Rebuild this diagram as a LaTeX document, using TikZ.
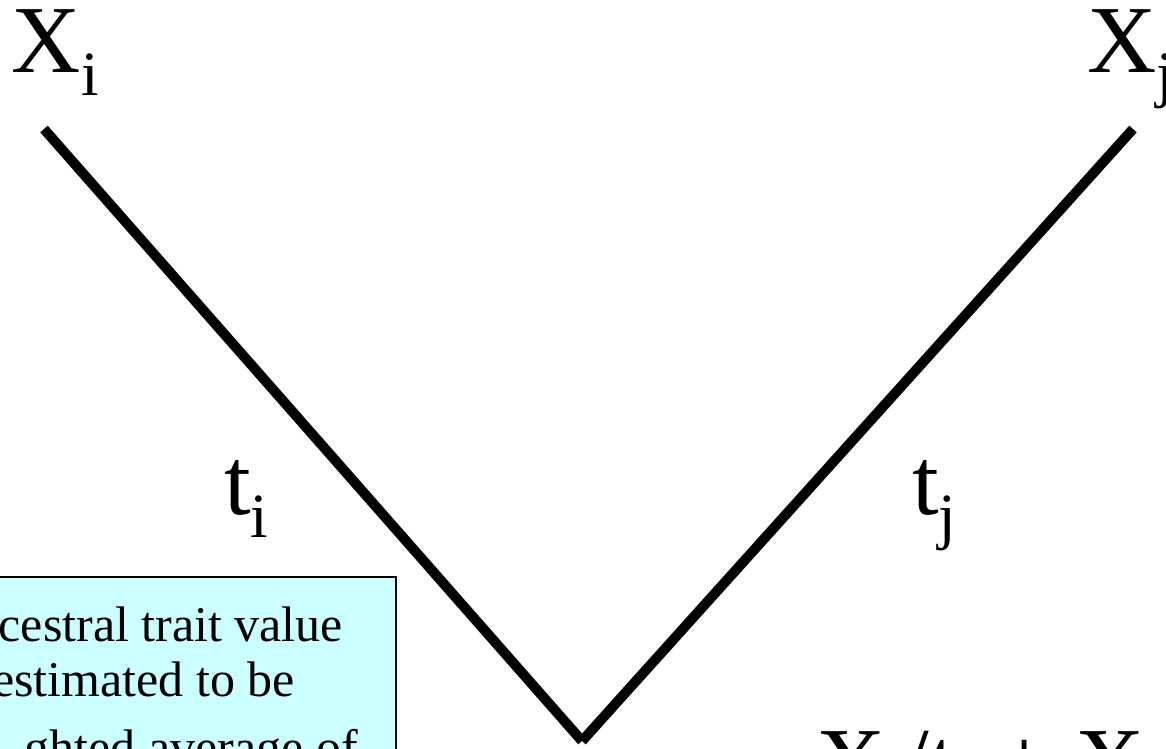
\documentclass[tikz,border=0pt]{standalone}
\usepackage{fontspec}
\setmainfont{Liberation Serif}
\newcommand{\mysub}[1]{\raisebox{-23pt}{\fontsize{63}{63}\selectfont #1}}
\definecolor{boxfill}{RGB}{204,255,255}
\tikzset{
  big/.style={inner sep=0pt, outer sep=0pt, font=\fontsize{96}{100}\selectfont},
  boxtxt/.style={inner sep=0pt, outer sep=0pt, font=\fontsize{50}{55}\selectfont},
  branch/.style={line width=10pt, line cap=butt},
  notebox/.style={draw=black, line width=2pt, fill=boxfill}
}
\begin{document}
\begin{tikzpicture}[x=1pt,y=-1pt]
\useasboundingbox (0,0) rectangle (1166,748);
\clip (0,0) rectangle (1166,748);
\fill[white] (0,0) rectangle (1166,748);
% branches
\coordinate (tipi) at (44,129);
\coordinate (tipj) at (1133,129);
\coordinate (root) at (582,741);
\draw[branch] (tipi) -- (root);
\draw[branch] (tipj) -- (root);
% labels
\node[big, anchor=base west] (Xi) at (12,72) {X\mysub{i}};
\node[big, anchor=base west] (Xj) at (1087,72) {X\mysub{j}};
\node[big, anchor=base west] (ti) at (224,514) {t\mysub{i}};
\node[big, anchor=base west] (tj) at (912,514) {t\mysub{j}};
% note box
\draw[notebox] (-20,577) rectangle (396,800);
\node[boxtxt, anchor=base east] (l1) at (343,641) {cestral trait value};
\node[boxtxt, anchor=base east] (l2) at (295,696) {estimated to be};
\node[boxtxt, anchor=base east] (l3) at (358,764) {ghted average of};
% formula
\node[big, anchor=base west] (form) at (816,794) {X\mysub{i}/t\mysub{i} + X\mysub{j}};
\end{tikzpicture}
\end{document}
